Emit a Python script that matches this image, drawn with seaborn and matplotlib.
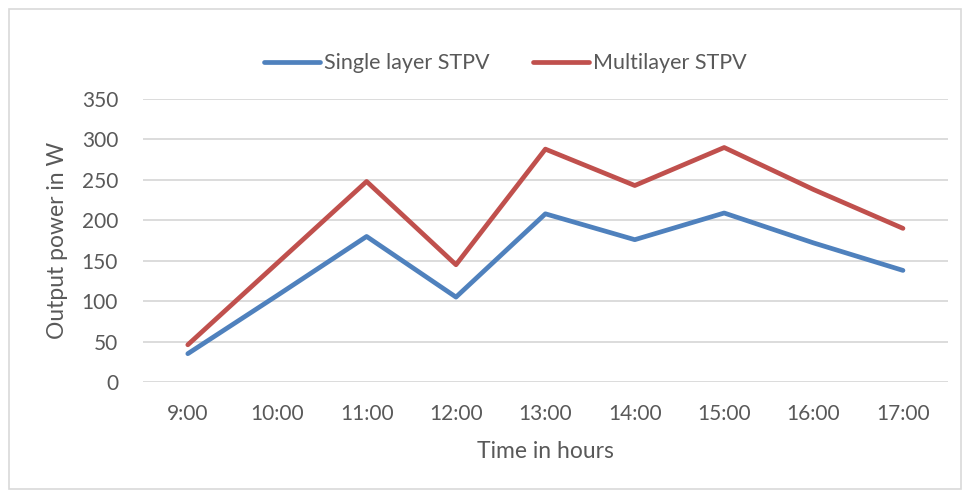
import matplotlib.pyplot as plt
import seaborn as sns
import pandas as pd
from matplotlib.patches import Rectangle

hours = ['9:00', '10:00', '11:00', '12:00', '13:00', '14:00', '15:00', '16:00', '17:00']
single_layer = [35, 107, 180, 105, 208, 176, 209, 172, 138]
multilayer = [46, 147, 248, 145, 288, 243, 290, 238, 190]

df = pd.DataFrame({
    'hour': hours * 2,
    'power': single_layer + multilayer,
    'series': ['Single layer STPV'] * len(hours) + ['Multilayer STPV'] * len(hours),
})
df['pos'] = list(range(len(hours))) * 2

sns.set_style('white')
plt.rcParams['font.family'] = ['Lato', 'DejaVu Sans']
grey = '#595959'

fig = plt.figure(figsize=(9.67, 4.95), dpi=100)
ax = fig.add_axes([0.148, 0.2283, 0.832, 0.5717])

sns.lineplot(data=df, x='pos', y='power', hue='series', ax=ax,
             palette={'Single layer STPV': '#4F81BD', 'Multilayer STPV': '#C0504D'},
             linewidth=3.4, legend=True)

ax.set_xlim(-0.5, len(hours) - 0.5)
ax.set_ylim(0, 350)
ax.set_yticks(range(0, 351, 50))
ax.set_xticks(range(len(hours)))
ax.set_xticklabels(hours)
ax.yaxis.grid(True, color='#D9D9D9', linewidth=1.3)
ax.set_axisbelow(True)
for s in ax.spines.values():
    s.set_visible(False)
ax.tick_params(axis='both', length=0, labelsize=15, colors=grey)
ax.tick_params(axis='y', pad=18)
ax.tick_params(axis='x', pad=16)
ax.set_xlabel('Time in hours', fontsize=16.5, color=grey, labelpad=12)
ax.set_ylabel('Output power in W', fontsize=16.5, color=grey, labelpad=10)

ax.legend(loc='center', bbox_to_anchor=(0.45, 1.127), ncol=2, frameon=False,
          fontsize=15.5, handlelength=2.6, handletextpad=0.2, columnspacing=2.0,
          labelcolor=grey)
leg = ax.get_legend()
for h in leg.get_lines():
    h.set_linewidth(3.4)

fig.patches.append(Rectangle((9 / 967, 6 / 495), 952 / 967, 480 / 495,
                             transform=fig.transFigure, fill=False,
                             edgecolor='#D9D9D9', linewidth=1.2))

fig.savefig('out.png', dpi=100)
